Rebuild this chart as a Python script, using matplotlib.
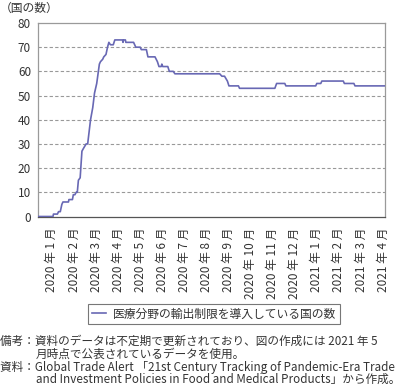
import matplotlib
matplotlib.use('Agg')
import matplotlib.pyplot as plt

plt.rcParams['font.family'] = ['Noto Sans CJK JP', 'DejaVu Sans']

# x in months from Jan 2020 (0 = 2020年1月), y = number of countries
months = [-0.63, 0.05, 0.07, 0.25, 0.30, 0.38, 0.45, 0.50, 0.75, 0.77, 0.93,
          0.97, 1.04, 1.10, 1.15, 1.20, 1.28, 1.36, 1.42, 1.55, 1.62, 1.75,
          1.85, 1.93, 2.03, 2.15, 2.20, 2.30, 2.35, 2.45, 2.52, 2.58, 2.65,
          2.78, 2.85, 3.20, 3.22, 3.25, 3.33, 3.35, 3.70, 3.80, 4.00, 4.05,
          4.28, 4.35, 4.67, 4.78, 4.85, 4.95, 4.98, 5.02, 5.25, 5.32, 5.50,
          5.57, 7.60, 7.70, 7.82, 7.95, 8.02, 8.45, 8.50, 10.10, 10.18,
          10.55, 10.60, 11.95, 12.00, 12.18, 12.23, 13.20, 13.25, 13.68,
          13.73, 15.09]
countries = [0, 0, 1, 1, 2, 2, 5, 6, 6, 7, 7,
             9, 9, 10, 10, 15, 16, 27, 28, 30, 30, 40,
             45, 51, 55, 63, 64, 65, 66, 67, 70, 72, 71,
             71, 73, 73, 72, 73, 73, 72, 72, 70, 70, 69,
             69, 66, 66, 64, 62, 62, 63, 62, 62, 60, 60,
             59, 59, 58, 58, 56, 54, 54, 53, 53, 55,
             55, 54, 54, 55, 55, 56, 56, 55, 55,
             54, 54]

tick_labels = ['2020 年 1 月', '2020 年 2 月', '2020 年 3 月', '2020 年 4 月',
               '2020 年 5 月', '2020 年 6 月', '2020 年 7 月', '2020 年 8 月',
               '2020 年 9 月', '2020 年 10 月', '2020 年 11 月', '2020 年 12 月',
               '2021 年 1 月', '2021 年 2 月', '2021 年 3 月', '2021 年 4 月']
series_name = '医療分野の輸出制限を導入している国の数'

W, H = 407, 387
fig = plt.figure(figsize=(W / 100, H / 100), dpi=100)
ax = fig.add_axes([38 / W, 1 - 216.5 / H, (385 - 38) / W, (216.5 - 23) / H])

ax.plot(months, countries, color='#6868b4', linewidth=1.2,
        label=series_name, zorder=3)

ax.set_xlim(-0.63, 15.09)
ax.set_ylim(0, 80)
ax.set_yticks(range(0, 81, 10))
ax.set_xticks(range(len(tick_labels)))
ax.set_xticklabels(tick_labels, rotation=90, va='top', ha='center')
ax.tick_params(length=0, labelsize=8.5, colors='#333333')
ax.tick_params(axis='x', pad=8)
ax.tick_params(axis='y', pad=5)

for y in range(10, 80, 10):
    ax.axhline(y, color='#999999', linewidth=0.8, linestyle=(0, (3, 2)), zorder=1)
for s in ax.spines.values():
    s.set_color('#9a9a9a')
    s.set_linewidth(0.9)
ax.spines['bottom'].set_color('#555555')

fig.text(0.0, 1 - 8 / H, '（国の数）', fontsize=8.5, va='center', ha='left',
         color='#333333')

leg = fig.legend(loc='center', bbox_to_anchor=(214 / W, 1 - 314 / H),
                 fontsize=8.5, frameon=True, fancybox=False, handlelength=1.2,
                 handletextpad=0.6, borderpad=0.3, borderaxespad=0)
leg.get_frame().set_edgecolor('#555555')
leg.get_frame().set_linewidth(0.8)
for t in leg.get_texts():
    t.set_color('#333333')

notes = [
    (0, 341, '備考：資料のデータは不定期で更新されており、図の作成には 2021 年 5'),
    (36, 354, '月時点で公表されているデータを使用。'),
    (0, 367, '資料：Global Trade Alert 「21st Century Tracking of Pandemic-Era Trade'),
    (36, 379, 'and Investment Policies in Food and Medical Products」から作成。'),
]
for x, y, txt in notes:
    fig.text(x / W, 1 - y / H, txt, fontsize=8.4, va='center', ha='left',
             color='#333333')

fig.savefig('out.png', dpi=100)
